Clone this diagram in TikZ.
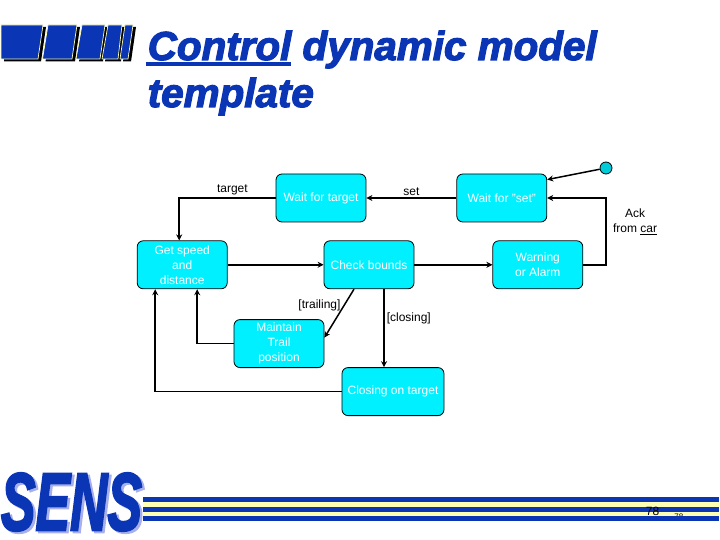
\documentclass[tikz,border=0pt]{standalone}
\usepackage{fontspec}
\usepackage{xcolor}
\usetikzlibrary{positioning, arrows.meta, calc}
\setmainfont{Liberation Sans}
\newfontfamily\headfont[BoldItalicFeatures={FakeBold=3}]{Liberation Sans}
\definecolor{deep}{HTML}{0A35B4}
\definecolor{pale}{HTML}{FFFFB4}
\definecolor{haze}{HTML}{A8B0EC}
\definecolor{aqua}{HTML}{00F0FF}

\begin{document}
\begin{tikzpicture}[x=1pt,y=-1pt,->,>={Stealth[length=6pt,width=6pt]},line width=1.5pt,
  statebox/.style={draw=black,line width=0.8pt,fill=aqua,rounded corners=6pt,
                   minimum width=90pt,minimum height=48pt,align=center,inner sep=0pt,
                   text=white,font=\fontsize{12}{15}\selectfont},
  lbl/.style={font=\fontsize{12}{15}\selectfont,align=center,inner sep=2pt,text=black},
  band/.style={draw=none,fill=deep}]
  \useasboundingbox (0,0) rectangle (720,540);

  % corner bars
  \foreach \ta/\tb/\ba/\bb in {1/43/1/38, 48/77/42.5/72, 82/105/76/100, 108/122/102/118, 125/133/120/128} {
    \fill[-,black] (\ta+3,27) -- (\tb+3,27) -- (\bb+3,61.5) -- (\ba+3,61.5) -- cycle;
    \filldraw[-,fill=deep,draw=pale,line width=0.7pt] (\ta,25) -- (\tb,25) -- (\bb,59) -- (\ba,59) -- cycle;
  }

  % heading
  \node[anchor=base west,inner sep=0pt,text=deep,font=\headfont\fontsize{40.4}{48}\selectfont\bfseries\itshape]
    (head1) at (147,60) {\rlap{\hspace{-2pt}\rule[-6.5pt]{145pt}{4pt}}Control dynamic model};
  \node[anchor=base west,inner sep=0pt,text=deep,font=\headfont\fontsize{40.4}{48}\selectfont\bfseries\itshape]
    (head2) at (147,107) {template};

  % states
  \node[statebox] (waittarget) at (321,198) {Wait for target};
  \node[statebox, right=90pt of waittarget] (waitset) {Wait for "set"};
  \node[statebox, below=18pt of waittarget, xshift=48pt] (check) {Check bounds};
  \node[statebox, left=96pt of check] (speed) {Get speed\\and\\distance};
  \node[statebox, right=78pt of check] (warn) {Warning\\or Alarm};
  \node[statebox, below=30pt of check, xshift=-90pt] (trail) {Maintain\\Trail\\position};
  \node[statebox, below=78pt of check, xshift=24pt, minimum width=102pt] (closing) {Closing on target};
  \node[circle,draw=black,line width=0.8pt,fill=aqua!85!black,minimum size=12pt,inner sep=0pt] (start) at (606,168) {};

  % transitions
  \path (start) edge ([yshift=-6pt]waitset.north east)
        (waitset) edge node[lbl,above]{set} (waittarget)
        (speed) edge (check)
        (check) edge (warn);
  \draw (waittarget.west) -| node[lbl,above,pos=.224]{target} ([xshift=-3pt]speed.north);
  \draw (warn.east) -- (warn.east -| start) |- (waitset.east);
  \draw ([xshift=-15pt]check.south) -- node[lbl,left,pos=.33,xshift=-1pt]{[trailing]} ([yshift=6pt]trail.east);
  \draw ([xshift=15pt]check.south) -- node[lbl,right,pos=.37]{[closing]} (closing.north -| {$(check.south)+(15pt,0)$});
  \draw (trail.west) -| ([xshift=15pt]speed.south);
  \draw (closing.west) -| ([xshift=-27pt]speed.south);
  \node[lbl] (ack) at (635,222) {Ack\\from \underline{car}};

  % footer
  \fill[band] (143,497) rectangle (719,502);
  \fill[pale] (143,502) rectangle (719,507);
  \fill[band] (143,507) rectangle (719,512);
  \fill[pale] (143,512) rectangle (719,516);
  \node[anchor=base east,inner sep=0pt,text=black,font=\fontsize{8}{8}\selectfont] (smallno) at (684,519) {78};
  \fill[band] (143,516) rectangle (719,521);
  \node[anchor=base east,inner sep=0pt,text=black,font=\fontsize{12}{12}\selectfont] (pageno) at (660,515) {78};
  \node[inner sep=0pt,text=haze,font=\headfont\bfseries\itshape] (logoback) at (74,504) {\resizebox{141pt}{57pt}{SENS}};
  \node[inner sep=0pt,text=deep,font=\headfont\bfseries\itshape] (logo) at (71.5,502) {\resizebox{141pt}{57pt}{SENS}};
\end{tikzpicture}
\end{document}
